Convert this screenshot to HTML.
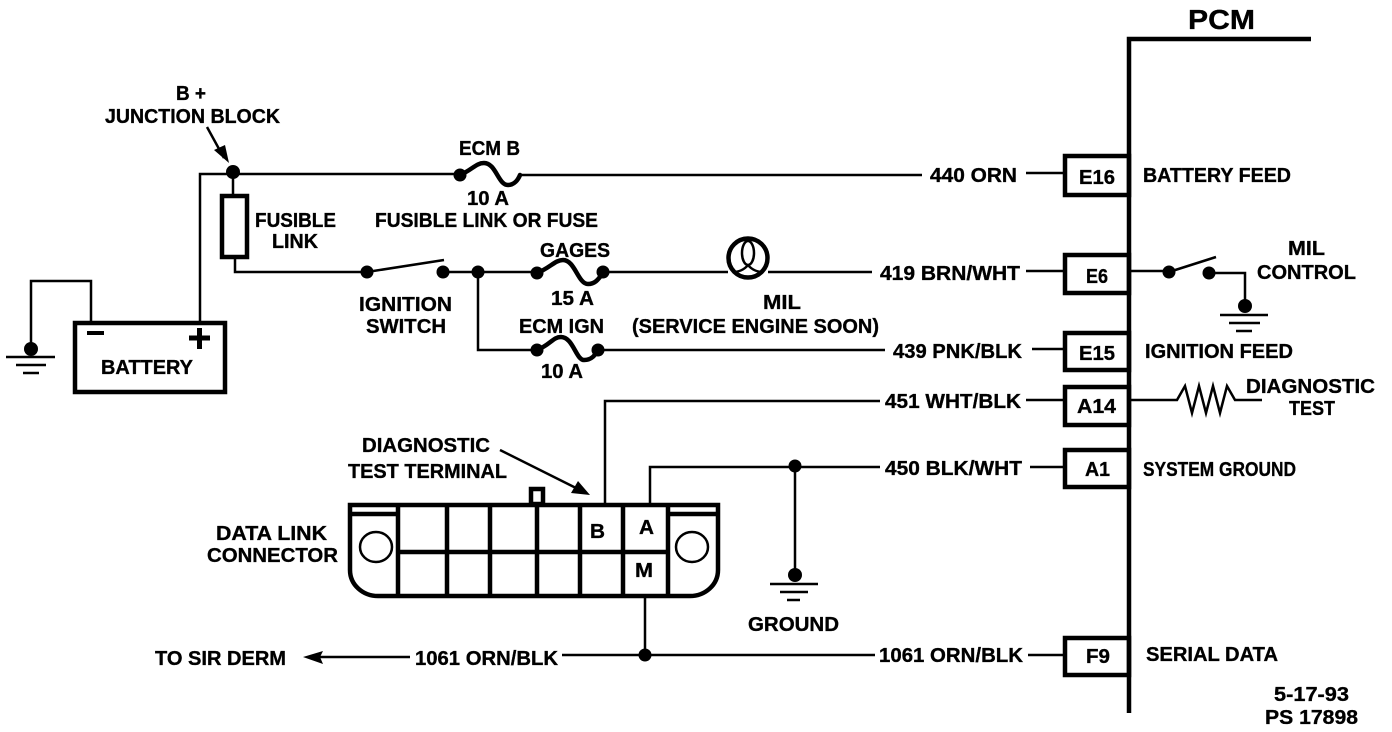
<!DOCTYPE html>
<html><head><meta charset="utf-8"><style>
html,body{margin:0;padding:0;background:#fff}
svg{display:block}
text{font-family:"Liberation Sans",sans-serif;font-weight:bold;font-size:20.500px;fill:#000;stroke:#000;stroke-width:.35}
.w{fill:none;stroke:#000;stroke-width:2.5}
.t{fill:none;stroke:#000;stroke-width:4.500}
</style></head><body>
<svg width="1392" height="732" viewBox="0 0 1392 732" xmlns="http://www.w3.org/2000/svg">
<rect width="1392" height="732" fill="#fff"/>
<!-- PCM -->
<path class="t" d="M1311 39H1129V713"/>
<g>
<rect class="t" x="1065" y="156" width="64" height="39"/>
<rect class="t" x="1065" y="255" width="64" height="38"/>
<rect class="t" x="1065" y="333" width="64" height="37"/>
<rect class="t" x="1065" y="387" width="64" height="38"/>
<rect class="t" x="1065" y="450" width="64" height="37"/>
<rect class="t" x="1065" y="638" width="64" height="37"/>
</g>
<!-- wires -->
<path class="w" d="M31 349V281H91V321"/>
<path class="w" d="M200 321V174H233M233 174H463M520 175H922M1026 173H1063"/>
<path class="w" d="M233 172V196M235 258V272H367M443 272H478M478 272H537M603 272H728M768 272H872M1026 271H1063"/>
<path class="w" d="M478 272V350H537M598 350H885M1032 349H1063"/>
<path class="w" d="M605 503V401H880M1026 400H1063"/>
<path class="w" d="M650 503V467H880M1030 467H1063"/>
<path class="w" d="M795 466V575"/>
<path class="w" d="M645 597V655M562 655H875M1028 655H1063M318 657H410"/>
<path class="w" d="M1131 271H1169M1209 273H1245V306"/>
<path class="w" stroke-linejoin="miter" d="M1131 400H1177L1185 386L1192 413L1199 386L1206 413L1213 386L1220 413L1227 386L1235 400H1262"/>
<!-- switches -->
<path class="w" d="M367 272L444 260M1169 272L1216 257"/>
<!-- fuses -->
<path class="t" stroke-linecap="round" d="M460 175C472 170 476 163 484 163C496 163 498 185 508 185C514 185 518 180 520 175"/>
<path class="t" stroke-linecap="round" d="M537 273C550 268 555 260 563 260C575 260 578 284 588 284C596 284 599 278 603 273"/>
<path class="t" stroke-linecap="round" d="M537 350C550 345 553 337 561 337C573 337 576 360 584 360C592 360 595 355 598 350"/>
<!-- fusible link -->
<rect class="t" x="222" y="196" width="25" height="61"/>
<!-- MIL -->
<circle cx="748" cy="258" r="19.500" class="t"/>
<ellipse cx="748" cy="253" rx="6" ry="12" class="w"/>
<path class="w" d="M748 265C744 270 738 272 733 272M748 265C752 270 758 272 763 272"/>
<!-- dots -->
<g fill="#000">
<circle cx="233" cy="172" r="7"/><circle cx="367" cy="272" r="6.500"/><circle cx="443" cy="272" r="6.500"/>
<circle cx="478" cy="272" r="6.500"/><circle cx="460" cy="175" r="6.500"/><circle cx="537" cy="273" r="6.500"/>
<circle cx="603" cy="272" r="6.500"/><circle cx="537" cy="350" r="6.500"/><circle cx="598" cy="350" r="6.500"/>
<circle cx="795" cy="466" r="6.500"/><circle cx="795" cy="575" r="7"/><circle cx="645" cy="655" r="6.500"/>
<circle cx="1169" cy="272" r="6.500"/><circle cx="1209" cy="273" r="6.500"/><circle cx="1245" cy="306" r="7"/>
<circle cx="31" cy="349" r="7"/>
<!-- arrows -->
<polygon points="303,657 323,651 320,657 323,664"/>
<polygon points="229,163 214,150 225,145"/>
<polygon points="590,495 571,493 578,481"/>
</g>
<path class="w" d="M207 127L224 158M500 450L582 491"/>
<!-- grounds -->
<path class="w" d="M6 357H55M16 365H46M23 373H39M1220 315H1268M1229 323H1260M1236 331H1252M770 584H818M780 592H808M787 600H800"/>
<!-- battery -->
<rect class="t" x="75" y="323" width="150" height="69"/>
<path d="M87 333H104" stroke="#000" stroke-width="4"/>
<path d="M189 338H210M199.500 328V349" stroke="#000" stroke-width="5"/>
<!-- DLC -->
<path class="t" d="M350 505H718V570C718 585 705 596 690 596H378C363 596 350 585 350 570Z"/>
<path class="t" d="M398 505V596M447 505V596M490 505V596M537 505V596M580 505V596M623 505V596M668 505V596M398 552H668M350 514H398M668 514H718"/>
<rect class="t" x="531" y="489" width="12" height="15"/>
<ellipse cx="376" cy="547" rx="16" ry="15" class="w"/>
<ellipse cx="692" cy="547" rx="16" ry="15" class="w"/>
<!-- text -->
<g>
<text x="176" y="100" textLength="30" lengthAdjust="spacingAndGlyphs">B +</text>
<text x="105" y="123" textLength="175" lengthAdjust="spacingAndGlyphs">JUNCTION BLOCK</text>
<text x="459" y="155" textLength="61" lengthAdjust="spacingAndGlyphs">ECM B</text>
<text x="467" y="205" textLength="42" lengthAdjust="spacingAndGlyphs">10 A</text>
<text x="375" y="227" textLength="223" lengthAdjust="spacingAndGlyphs">FUSIBLE LINK OR FUSE</text>
<text x="540" y="257" textLength="70" lengthAdjust="spacingAndGlyphs">GAGES</text>
<text x="551" y="305" textLength="43" lengthAdjust="spacingAndGlyphs">15 A</text>
<text x="519" y="333" textLength="85" lengthAdjust="spacingAndGlyphs">ECM IGN</text>
<text x="541" y="378" textLength="42" lengthAdjust="spacingAndGlyphs">10 A</text>
<text x="255" y="227" textLength="81" lengthAdjust="spacingAndGlyphs">FUSIBLE</text>
<text x="272" y="248" textLength="46" lengthAdjust="spacingAndGlyphs">LINK</text>
<text x="359" y="311" textLength="93" lengthAdjust="spacingAndGlyphs">IGNITION</text>
<text x="366" y="333" textLength="80" lengthAdjust="spacingAndGlyphs">SWITCH</text>
<text x="101" y="374" textLength="92" lengthAdjust="spacingAndGlyphs">BATTERY</text>
<text x="930" y="182" textLength="87" lengthAdjust="spacingAndGlyphs">440 ORN</text>
<text x="880" y="280" textLength="140" lengthAdjust="spacingAndGlyphs">419 BRN/WHT</text>
<text x="893" y="358" textLength="129" lengthAdjust="spacingAndGlyphs">439 PNK/BLK</text>
<text x="885" y="408" textLength="136" lengthAdjust="spacingAndGlyphs">451 WHT/BLK</text>
<text x="885" y="475" textLength="137" lengthAdjust="spacingAndGlyphs">450 BLK/WHT</text>
<text x="879" y="662" textLength="144" lengthAdjust="spacingAndGlyphs">1061 ORN/BLK</text>
<text x="415" y="665" textLength="143" lengthAdjust="spacingAndGlyphs">1061 ORN/BLK</text>
<text x="155" y="665" textLength="131" lengthAdjust="spacingAndGlyphs">TO SIR DERM</text>
<text x="763" y="309" textLength="38" lengthAdjust="spacingAndGlyphs">MIL</text>
<text x="632" y="333" textLength="247" lengthAdjust="spacingAndGlyphs">(SERVICE ENGINE SOON)</text>
<text x="362" y="452" textLength="128" lengthAdjust="spacingAndGlyphs">DIAGNOSTIC</text>
<text x="348" y="478" textLength="159" lengthAdjust="spacingAndGlyphs">TEST TERMINAL</text>
<text x="216" y="540" textLength="111" lengthAdjust="spacingAndGlyphs">DATA LINK</text>
<text x="207" y="562" textLength="131" lengthAdjust="spacingAndGlyphs">CONNECTOR</text>
<text x="748" y="631" textLength="91" lengthAdjust="spacingAndGlyphs">GROUND</text>
<text x="1188" y="29" textLength="67" lengthAdjust="spacingAndGlyphs" style="font-size:28px">PCM</text>
<text x="1143" y="182" textLength="148" lengthAdjust="spacingAndGlyphs">BATTERY FEED</text>
<text x="1288" y="255" textLength="37" lengthAdjust="spacingAndGlyphs">MIL</text>
<text x="1257" y="279" textLength="99" lengthAdjust="spacingAndGlyphs">CONTROL</text>
<text x="1145" y="358" textLength="148" lengthAdjust="spacingAndGlyphs">IGNITION FEED</text>
<text x="1246" y="393" textLength="129" lengthAdjust="spacingAndGlyphs">DIAGNOSTIC</text>
<text x="1289" y="415" textLength="46" lengthAdjust="spacingAndGlyphs">TEST</text>
<text x="1143" y="476" textLength="153" lengthAdjust="spacingAndGlyphs">SYSTEM GROUND</text>
<text x="1146" y="661" textLength="132" lengthAdjust="spacingAndGlyphs">SERIAL DATA</text>
<text x="1274" y="701" textLength="75" lengthAdjust="spacingAndGlyphs">5-17-93</text>
<text x="1265" y="724" textLength="93" lengthAdjust="spacingAndGlyphs">PS 17898</text>
<text x="1079" y="184" textLength="36" lengthAdjust="spacingAndGlyphs">E16</text>
<text x="1086" y="283" textLength="22" lengthAdjust="spacingAndGlyphs">E6</text>
<text x="1079" y="360" textLength="36" lengthAdjust="spacingAndGlyphs">E15</text>
<text x="1077" y="413" textLength="39" lengthAdjust="spacingAndGlyphs">A14</text>
<text x="1085" y="476" textLength="25" lengthAdjust="spacingAndGlyphs">A1</text>
<text x="1086" y="663" textLength="24" lengthAdjust="spacingAndGlyphs">F9</text>
<text x="590" y="538" textLength="15" lengthAdjust="spacingAndGlyphs">B</text>
<text x="639" y="534" textLength="15" lengthAdjust="spacingAndGlyphs">A</text>
<text x="635" y="577" textLength="18" lengthAdjust="spacingAndGlyphs">M</text>
</g>
</svg>
</body></html>
